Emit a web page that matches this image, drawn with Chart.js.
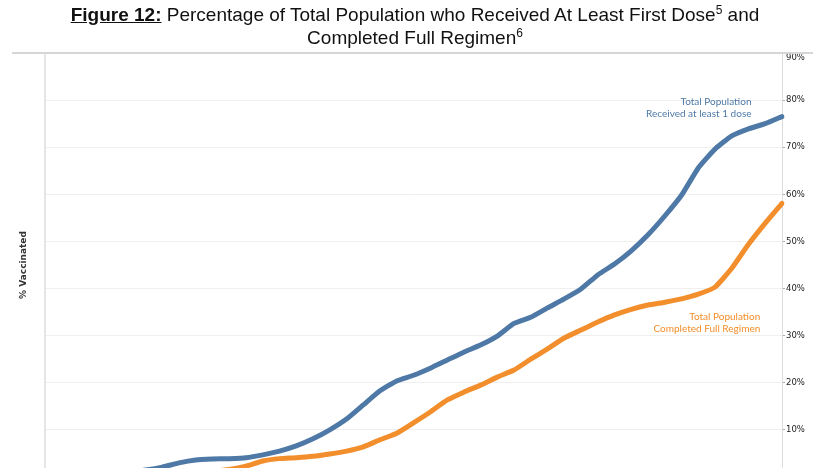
<!DOCTYPE html>
<html>
<head>
<meta charset="utf-8">
<script src="https://cdn.jsdelivr.net/npm/chart.js@4.4.1/dist/chart.umd.min.js"></script>
<style>
  html, body { margin: 0; padding: 0; background: #fff; overflow: hidden; }
  body { width: 830px; height: 468px; position: relative; }
  #title { position: absolute; left: 0; top: 3px; width: 830px; text-align: center;
    font-family: "Liberation Sans", Arial, sans-serif; font-size: 19px; line-height: 23px; color: #111; z-index: 2; }
  #title b { text-decoration: underline; }
  #title sup { font-size: 12px; line-height: 0; vertical-align: 7px; }
  #sep { position: absolute; left: 12px; top: 52px; width: 801px; height: 0; border-top: 2px solid #d6d6d6; z-index: 2; }
  #wrap { position: absolute; left: 0; top: 0; width: 830px; height: 492px; }
</style>
</head>
<body>
<div id="title"><b>Figure 12:</b> Percentage of Total Population who Received At Least First Dose<sup>5</sup> and<br>Completed Full Regimen<sup>6</sup></div>
<div id="sep"></div>
<div id="wrap"><canvas id="c"></canvas></div>
<script>
// Weekly categories (axis labels are not visible in the reference)
const categories = ["2020-12-14","2020-12-21","2020-12-28","2021-01-04","2021-01-11","2021-01-18","2021-01-25","2021-02-01","2021-02-08","2021-02-15","2021-02-22","2021-03-01","2021-03-08","2021-03-15","2021-03-22","2021-03-29","2021-04-05","2021-04-12","2021-04-19","2021-04-26","2021-05-03","2021-05-10","2021-05-17","2021-05-24","2021-05-31","2021-06-07","2021-06-14","2021-06-21","2021-06-28","2021-07-05","2021-07-12","2021-07-19","2021-07-26","2021-08-02","2021-08-09","2021-08-16","2021-08-23","2021-08-30","2021-09-06","2021-09-13","2021-09-20","2021-09-27","2021-10-04","2021-10-11","2021-10-18"];
const atLeastOneDose = [0.0,0.1,0.3,0.5,0.8,1.1,1.5,2.1,3.0,3.6,3.8,3.9,4.1,4.7,5.5,6.6,8.1,10.0,12.3,15.3,18.3,20.4,21.6,23.1,24.8,26.5,28.0,29.9,32.6,33.9,35.9,37.8,39.9,42.9,45.2,48.0,51.4,55.4,59.8,65.6,69.6,72.4,73.9,75.0,76.5];
const fullRegimen = [0.0,0.0,0.05,0.1,0.1,0.2,0.3,0.4,0.6,0.9,1.2,1.6,2.3,3.4,3.9,4.1,4.4,4.9,5.5,6.4,7.9,9.3,11.5,13.8,16.3,18.0,19.5,21.2,22.7,25.0,27.2,29.5,31.2,32.9,34.4,35.6,36.5,37.1,37.8,38.8,40.3,44.3,49.4,53.9,58.1];
const tickLabels = ["0%","10%","20%","30%","40%","50%","60%","70%","80%","90%"];
const seriesNames = [["Total Population","Received at least 1 dose"],["Total Population","Completed Full Regimen"]];
const blue = "#4e79a7", orange = "#f28e2b";

const annotate = {
  id: "annotate",
  afterDatasetsDraw(chart) {
    const ctx = chart.ctx, x = chart.scales.x, y = chart.scales.y;
    ctx.save();
    ctx.font = "10px Lato, 'DejaVu Sans', sans-serif";
    ctx.textAlign = "right";
    ctx.textBaseline = "middle";
    ctx.fillStyle = blue;
    const bx = x.getPixelForValue(42) + 3, by = y.getPixelForValue(79.6);
    ctx.fillText(seriesNames[0][0], bx, by);
    ctx.fillText(seriesNames[0][1], bx, by + 12);
    ctx.fillStyle = orange;
    const ox = x.getPixelForValue(43) - 5, oy = y.getPixelForValue(34.0);
    ctx.fillText(seriesNames[1][0], ox, oy);
    ctx.fillText(seriesNames[1][1], ox, oy + 12);
    ctx.restore();
  }
};

new Chart(document.getElementById("c"), {
  type: "line",
  data: {
    labels: categories,
    datasets: [
      { label: seriesNames[0].join(" "), data: atLeastOneDose, borderColor: blue, borderWidth: 5, pointRadius: 0, tension: 0.15, borderJoinStyle: "round", borderCapStyle: "round" },
      { label: seriesNames[1].join(" "), data: fullRegimen, borderColor: orange, borderWidth: 5, pointRadius: 0, tension: 0.15, borderJoinStyle: "round", borderCapStyle: "round" }
    ]
  },
  options: {
    responsive: true,
    maintainAspectRatio: false,
    animation: false,
    layout: { padding: { top: 53, bottom: 15, left: 0, right: 0 } },
    plugins: { legend: { display: false }, tooltip: { enabled: false }, title: { display: false } },
    scales: {
      x: { type: "category", offset: false, display: false, grid: { display: false } },
      yl: {
        position: "left", min: 0, max: 90,
        ticks: { display: false },
        grid: { drawOnChartArea: false, drawTicks: false },
        border: { display: true, color: "#e6e6e6", width: 2 },
        title: { display: true, text: "% Vaccinated", color: "#333", font: { family: "'DejaVu Sans', sans-serif", size: 9, weight: "bold" }, padding: { top: 18, bottom: 0 } },
        afterFit(s) { s.width = 45; }
      },
      y: {
        position: "right", min: 0, max: 90,
        ticks: {
          stepSize: 10, padding: 1, color: "#222",
          font: { family: "'DejaVu Sans', sans-serif", size: 8.5 },
          callback: (v) => { const i = Math.round(v / 10); return i === 9 ? ["", tickLabels[i]] : tickLabels[i]; }
        },
        grid: { color: "#efefef", lineWidth: 1, tickLength: 3, tickColor: "#aaa" },
        border: { display: true, color: "#dcdcdc", width: 1 },
        afterFit(s) { s.width = 48; }
      }
    }
  },
  plugins: [annotate]
});
</script>
</body>
</html>
